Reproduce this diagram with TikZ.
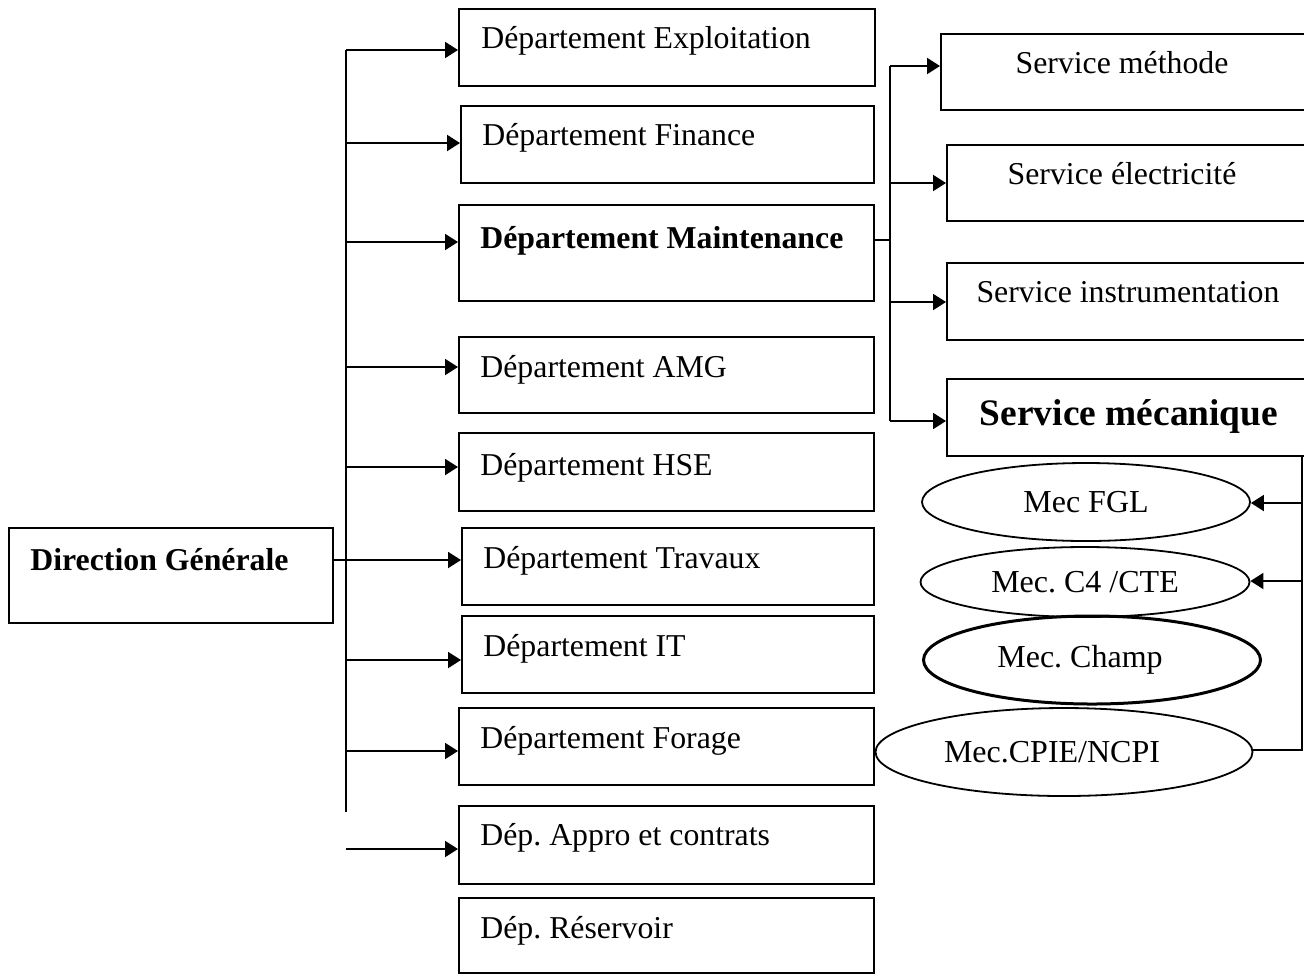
\documentclass[tikz,border=0pt]{standalone}
\usepackage{fontspec}
\setmainfont{Liberation Serif}
\usetikzlibrary{arrows.meta,fit,shapes.geometric}
\begin{document}
\frenchspacing
\begin{tikzpicture}[x=0.5pt,y=-0.5pt,
  box/.style={draw, line width=1pt, inner sep=0pt},
  txt/.style={anchor=base west, inner sep=0pt, font=\fontsize{15.9}{18}\selectfont},
  ctxt/.style={anchor=base, inner sep=0pt, font=\fontsize{15.9}{18}\selectfont},
  btxt/.style={anchor=base west, inner sep=0pt, font=\fontsize{15.9}{18}\selectfont\bfseries},
  ell/.style={draw, ellipse, line width=0.9pt, inner sep=0pt, font=\fontsize{16}{18}\selectfont},
  conn/.style={line width=1pt},
  arr/.style={line width=1pt, -{Triangle[length=6.5pt,width=8pt]}}
]
\useasboundingbox (0,0) rectangle (1304,976);

% Direction
\node[box, fit={(9,528) (333,623)}] (dg) {};
\node[btxt] (dgt) at (30,570) {Direction Générale};

% Departments
\node[box, fit={(459,9) (875,86)}] (d1) {};
\node[txt] (d1t) at (481,48) {Département Exploitation};
\node[box, fit={(461,106) (874,183)}] (d2) {};
\node[txt] (d2t) at (482,145) {Département Finance};
\node[box, fit={(459,205) (874,301)}] (d3) {};
\node[btxt] (d3t) at (480,248) {Département Maintenance};
\node[box, fit={(459,337) (874,413)}] (d4) {};
\node[txt] (d4t) at (480,377) {Département AMG};
\node[box, fit={(459,433) (874,511)}] (d5) {};
\node[txt] (d5t) at (480,475) {Département HSE};
\node[box, fit={(462,528) (874,605)}] (d6) {};
\node[txt] (d6t) at (483,568) {Département Travaux};
\node[box, fit={(462,616) (874,693)}] (d7) {};
\node[txt] (d7t) at (483,656) {Département IT};
\node[box, fit={(459,708) (874,785)}] (d8) {};
\node[txt] (d8t) at (480,748) {Département Forage};
\node[box, fit={(459,806) (874,884)}] (d9) {};
\node[txt] (d9t) at (480,845) {Dép. Appro et contrats};
\node[box, fit={(459,898) (874,973)}] (d10) {};
\node[txt] (d10t) at (480,938) {Dép. Réservoir};

% Services
\node[box, fit={(941,34) (1310,110)}] (s1) {};
\node[ctxt] (s1t) at (1122,73) {Service méthode};
\node[box, fit={(947,145) (1310,221)}] (s2) {};
\node[ctxt] (s2t) at (1122,184) {Service électricité};
\node[box, fit={(947,263) (1310,340)}] (s3) {};
\node[ctxt] (s3t) at (1128,302) {Service instrumentation};
\node[box, fit={(947,379) (1310,456)}] (s4) {};
\node[anchor=base, inner sep=0pt, font=\fontsize{18.7}{22}\selectfont\bfseries] (s4t) at (1129,425) {Service mécanique};

% Ellipses
\node[ell, minimum width=164pt, minimum height=39pt] (e1) at (1086,502) {Mec FGL};
\node[ell, minimum width=164.5pt, minimum height=35pt] (e2) at (1085,582) {Mec. C4 /CTE};
\node[ell, line width=1.5pt, minimum width=168.5pt, minimum height=44pt] (e3) at (1092,660) {\hspace*{-12pt}Mec. Champ};
\node[ell, minimum width=188.5pt, minimum height=44pt] (e4) at (1064,752) {\hspace*{-12pt}Mec.CPIE/NCPI};

% main trunk
\coordinate (ta) at (346,50);
\coordinate (tb) at (346,812);
\draw[conn] (ta) -- (tb);
\coordinate (t1) at (346,50);
\coordinate (t2) at (346,143);
\coordinate (t3) at (346,242);
\coordinate (t4) at (346,367);
\coordinate (t5) at (346,467);
\coordinate (t6) at (346,560);
\coordinate (t7) at (346,660);
\coordinate (t8) at (346,751);
\coordinate (t9) at (346,849);
\draw[arr] (t1) -- (d1.west |- t1);
\draw[arr] (t2) -- (d2.west |- t2);
\draw[arr] (t3) -- (d3.west |- t3);
\draw[arr] (t4) -- (d4.west |- t4);
\draw[arr] (t5) -- (d5.west |- t5);
\draw[arr] (dg.east |- t6) -- (d6.west |- t6);
\draw[arr] (t7) -- (d7.west |- t7);
\draw[arr] (t8) -- (d8.west |- t8);
\draw[arr] (t9) -- (d9.west |- t9);

% maintenance trunk
\coordinate (m0) at (874,240);
\coordinate (ma) at (890,66);
\coordinate (mb) at (890,421);
\draw[conn] (m0) -- (m0 -| ma);
\draw[conn] (ma) -- (mb);
\coordinate (m1) at (890,66);
\coordinate (m2) at (890,183);
\coordinate (m3) at (890,302);
\draw[arr] (m1) -- (s1.west |- m1);
\draw[arr] (m2) -- (s2.west |- m2);
\draw[arr] (m3) -- (s3.west |- m3);
\draw[arr] (mb) -- (s4.west |- mb);

% mecanique trunk
\coordinate (ra) at (1302,456);
\coordinate (rb) at (1302,750);
\coordinate (r1) at (1302,503);
\coordinate (r2) at (1302,581);
\draw[conn] (ra) -- (rb) -- (e4.east |- rb);
\draw[arr] (r1) -- (e1.east |- r1);
\draw[arr] (r2) -- (e2.east |- r2);
\end{tikzpicture}
\end{document}
